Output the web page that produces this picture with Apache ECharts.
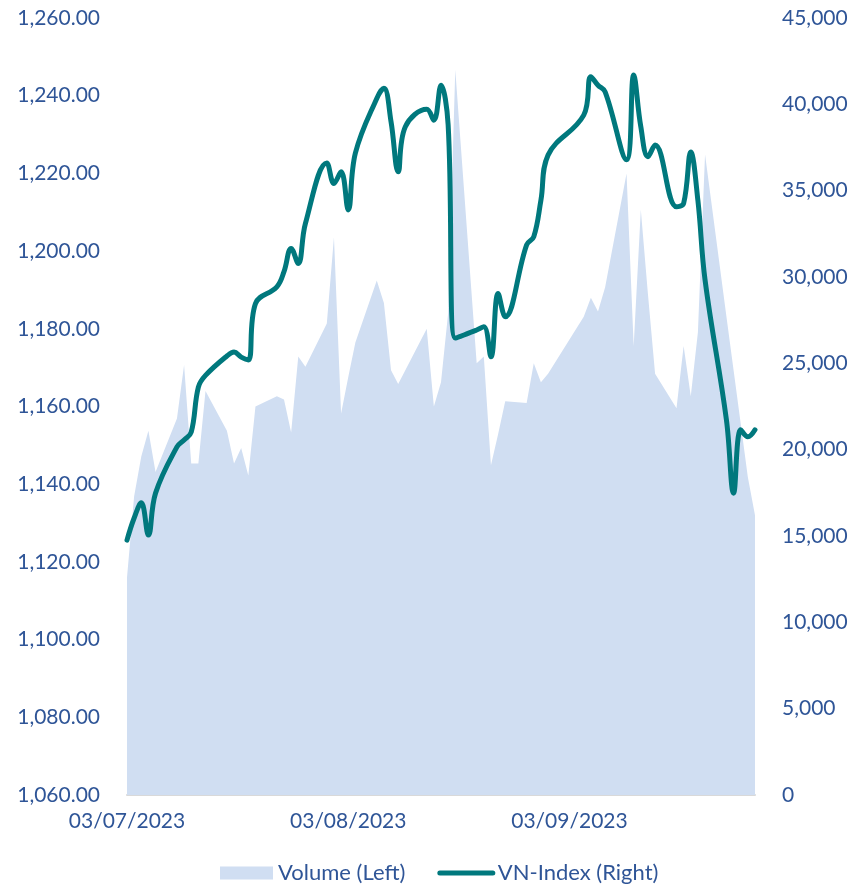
<!DOCTYPE html>
<html>
<head>
<meta charset="utf-8">
<script src="https://cdn.jsdelivr.net/npm/echarts@6/dist/echarts.min.js"></script>
<style>
  html, body { margin: 0; padding: 0; background: #fff; }
  #chart { width: 851px; height: 893px; }
</style>
</head>
<body>
<div id="chart"></div>
<script>
// trading days, Jul - Sep 2023
const tradeDates = [
  '2023-07-03', '2023-07-04', '2023-07-05', '2023-07-06', '2023-07-07',
  '2023-07-10', '2023-07-11', '2023-07-12', '2023-07-13', '2023-07-14',
  '2023-07-17', '2023-07-18', '2023-07-19', '2023-07-20', '2023-07-21',
  '2023-07-24', '2023-07-25', '2023-07-26', '2023-07-27', '2023-07-28',
  '2023-07-31', '2023-08-01', '2023-08-02', '2023-08-03', '2023-08-04',
  '2023-08-07', '2023-08-08', '2023-08-09', '2023-08-10', '2023-08-11',
  '2023-08-14', '2023-08-15', '2023-08-16', '2023-08-17', '2023-08-18',
  '2023-08-21', '2023-08-22', '2023-08-23', '2023-08-24', '2023-08-25',
  '2023-08-28', '2023-08-29', '2023-08-30', '2023-08-31',
  '2023-09-05', '2023-09-06', '2023-09-07', '2023-09-08',
  '2023-09-11', '2023-09-12', '2023-09-13', '2023-09-14', '2023-09-15',
  '2023-09-18', '2023-09-19', '2023-09-20', '2023-09-21', '2023-09-22',
  '2023-09-25', '2023-09-26', '2023-09-27', '2023-09-28', '2023-09-29'
];

const vnIndex = [
  1125.6, 1131.3, 1135.2, 1126.9, 1137.7,
  1149.6, 1151.4, 1153.4, 1165.0, 1168.0,
  1173.0, 1174.0, 1172.7, 1172.0, 1186.5,
  1190.8, 1194.7, 1200.7, 1196.8, 1207.1,
  1222.7, 1217.4, 1220.4, 1210.6, 1225.2,
  1239.3, 1241.9, 1233.3, 1220.4, 1232.0,
  1236.5, 1233.7, 1242.7, 1232.5, 1177.6,
  1179.7, 1180.5, 1172.8, 1189.1, 1183.1,
  1201.6, 1203.7, 1213.1, 1224.7,
  1235.0, 1244.9, 1242.7, 1241.0,
  1223.5, 1245.3, 1232.0, 1224.3, 1227.3,
  1211.4, 1212.3, 1225.5, 1213.0, 1192.6,
  1156.5, 1137.7, 1154.0, 1152.2, 1154.0
];

const volume = [
  12600, 17300, 19600, 21100, 18700,
  21800, 24900, 19200, 19200, 23400,
  21100, 19200, 20100, 18500, 22500,
  23100, 22900, 21000, 25400, 24800,
  27300, 32300, 22100, 24200, 26200,
  29800, 28500, 24600, 23800, 24600,
  27000, 22500, 23900, 27900, 42000,
  25000, 25400, 19100, 20900, 22800,
  22700, 25000, 23900, 24400,
  27700, 28800, 28000, 29400,
  36000, 26000, 33900, 29000, 24400,
  22400, 26000, 23100, 26800, 37100,
  27700, 24600, 21500, 18400, 16200
];

const xTickLabels = ['03/07/2023', '03/08/2023', '03/09/2023'];
const seriesNames = ['Volume (Left)', 'VN-Index (Right)'];

const DAY = 86400000;
const t0 = Date.parse(tradeDates[0]);
const dayOf = d => Math.round((Date.parse(d) - t0) / DAY);
const tickOffsets = xTickLabels.map(s => {
  const p = s.split('/');
  return dayOf(p[2] + '-' + p[1] + '-' + p[0]);
});
const lastDay = dayOf(tradeDates[tradeDates.length - 1]);

function fmt(v, dec) {
  const parts = v.toFixed(dec).split('.');
  parts[0] = parts[0].replace(/\B(?=(\d{3})+(?!\d))/g, ',');
  return parts.join('.');
}

const textColor = '#2F5597';
const font = 'Lato, "Open Sans", sans-serif';

const chart = echarts.init(document.getElementById('chart'));
chart.setOption({
  animation: false,
  textStyle: { fontFamily: font },
  grid: { left: 127, right: 96, top: 18, bottom: 98 },
  legend: {
    bottom: 4,
    left: 215,
    itemWidth: 53,
    itemHeight: 13,
    itemGap: 32,
    textStyle: { color: textColor, fontSize: 22, fontFamily: font },
    data: [
      { name: seriesNames[0], icon: 'rect' },
      { name: seriesNames[1], itemStyle: { opacity: 0 }, lineStyle: { width: 5, cap: 'round' } }
    ]
  },
  xAxis: {
    type: 'value',
    min: 0,
    max: lastDay,
    interval: 31,
    axisLine: { show: true, lineStyle: { color: '#D9D9D9', width: 2 } },
    axisTick: { show: false },
    splitLine: { show: false },
    axisLabel: {
      color: textColor,
      fontSize: 21,
      margin: 16,
      formatter: v => {
        const i = tickOffsets.indexOf(v);
        return i >= 0 ? xTickLabels[i] : '';
      }
    }
  },
  yAxis: [
    {
      type: 'value',
      min: 1060,
      max: 1260,
      interval: 20,
      position: 'left',
      axisLine: { show: false },
      axisTick: { show: false },
      splitLine: { show: false },
      axisLabel: { color: textColor, fontSize: 21, margin: 27, formatter: v => fmt(v, 2) }
    },
    {
      type: 'value',
      min: 0,
      max: 45000,
      interval: 5000,
      position: 'right',
      axisLine: { show: false },
      axisTick: { show: false },
      splitLine: { show: false },
      axisLabel: { color: textColor, fontSize: 21, margin: 27, formatter: v => fmt(v, 0) }
    }
  ],
  series: [
    {
      name: seriesNames[0],
      type: 'line',
      yAxisIndex: 1,
      symbol: 'none',
      color: '#D0DEF2',
      lineStyle: { width: 0 },
      areaStyle: { color: '#D0DEF2', opacity: 1 },
      data: tradeDates.map((d, i) => [dayOf(d), volume[i]])
    },
    {
      name: seriesNames[1],
      type: 'line',
      yAxisIndex: 0,
      symbol: 'none',
      smooth: 0.4,
      color: '#00787D',
      lineStyle: { width: 5, color: '#00787D', cap: 'round', join: 'round' },
      data: tradeDates.map((d, i) => [dayOf(d), vnIndex[i]])
    }
  ]
});
</script>
</body>
</html>
